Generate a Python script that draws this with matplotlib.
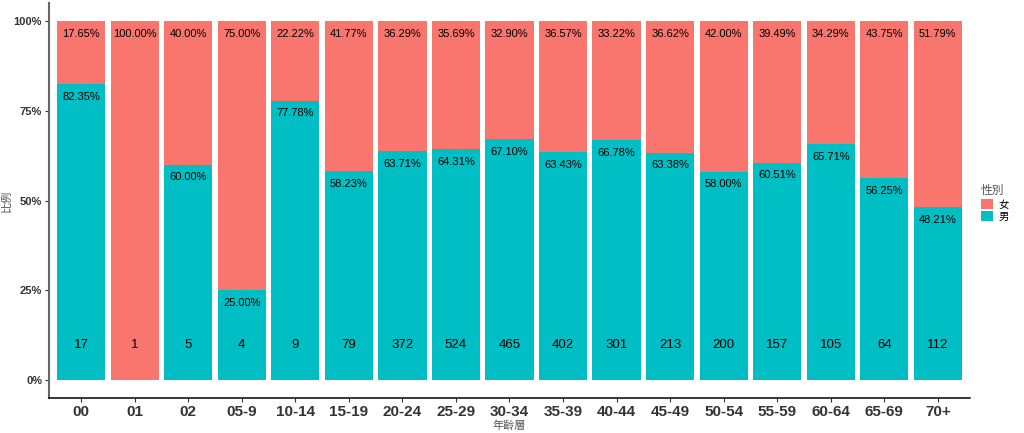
import matplotlib
matplotlib.use("Agg")
import matplotlib.pyplot as plt
from matplotlib.patches import Patch
import numpy as np

plt.rcParams['font.family'] = ['Liberation Sans', 'Noto Sans CJK TC', 'DejaVu Sans']

categories = ["00", "01", "02", "05-9", "10-14", "15-19", "20-24", "25-29", "30-34",
              "35-39", "40-44", "45-49", "50-54", "55-59", "60-64", "65-69", "70+"]
male_pct = [82.35, 0.0, 60.00, 25.00, 77.78, 58.23, 63.71, 64.31, 67.10,
            63.43, 66.78, 63.38, 58.00, 60.51, 65.71, 56.25, 48.21]
female_pct = [17.65, 100.00, 40.00, 75.00, 22.22, 41.77, 36.29, 35.69, 32.90,
              36.57, 33.22, 36.62, 42.00, 39.49, 34.29, 43.75, 51.79]
counts = [17, 1, 5, 4, 9, 79, 372, 524, 465, 402, 301, 213, 200, 157, 105, 64, 112]

male_col = "#00BFC4"
female_col = "#F8766D"

fig = plt.figure(figsize=(10.24, 4.33), dpi=100)
ax = fig.add_axes([0.0479, 0.0808, 0.8993, 0.912])

x = np.arange(len(categories))
m = np.array(male_pct) / 100
f = np.array(female_pct) / 100
ax.bar(x, m, width=0.9, color=male_col, linewidth=0)
ax.bar(x, f, bottom=m, width=0.9, color=female_col, linewidth=0)

off = 0.035
for i in range(len(categories)):
    ax.text(x[i], 1 - off, f"{female_pct[i]:.2f}%", ha='center', va='center',
            fontsize=8, color='black')
    if male_pct[i] > 0:
        ax.text(x[i], m[i] - off, f"{male_pct[i]:.2f}%", ha='center', va='center',
                fontsize=8, color='black')
    ax.text(x[i], 0.0975, f"{counts[i]}", ha='center', va='center',
            fontsize=9.5, color='black')

ax.set_xlim(-0.6, len(categories) - 0.4)
ax.set_ylim(-0.05, 1.05)
ax.set_xticks(x)
ax.set_xticklabels(categories, fontsize=11, fontweight='bold', color='#333333')
ax.set_yticks([0, 0.25, 0.5, 0.75, 1.0])
ax.set_yticklabels(["0%", "25%", "50%", "75%", "100%"], fontsize=8,
                   fontweight='bold', color='#333333')
ax.tick_params(axis='both', length=3, width=0.8, color='#333333', pad=2)
for s in ['top', 'right']:
    ax.spines[s].set_visible(False)
ax.spines['left'].set_linewidth(1.5)
ax.spines['left'].set_color('#666666')
ax.spines['bottom'].set_linewidth(1.1)
ax.spines['bottom'].set_color('black')

ax.set_xlabel("年齡層", fontsize=8, color='#555555', labelpad=1)
ax.set_ylabel("比例", fontsize=8, color='#555555')
ax.yaxis.set_label_coords(-0.0405, 0.5)

handles = [Patch(facecolor=female_col, label='女'), Patch(facecolor=male_col, label='男')]
leg = fig.legend(handles=handles, title='性別', loc='center left',
                 bbox_to_anchor=(0.953, 0.53), frameon=False, fontsize=7.5,
                 title_fontsize=8.5, handlelength=1.1, handleheight=1.1,
                 handletextpad=0.6, labelspacing=0.15, borderpad=0)
leg.get_title().set_color('#555555')
leg._legend_box.align = "left"

fig.savefig("out.png", dpi=100)
